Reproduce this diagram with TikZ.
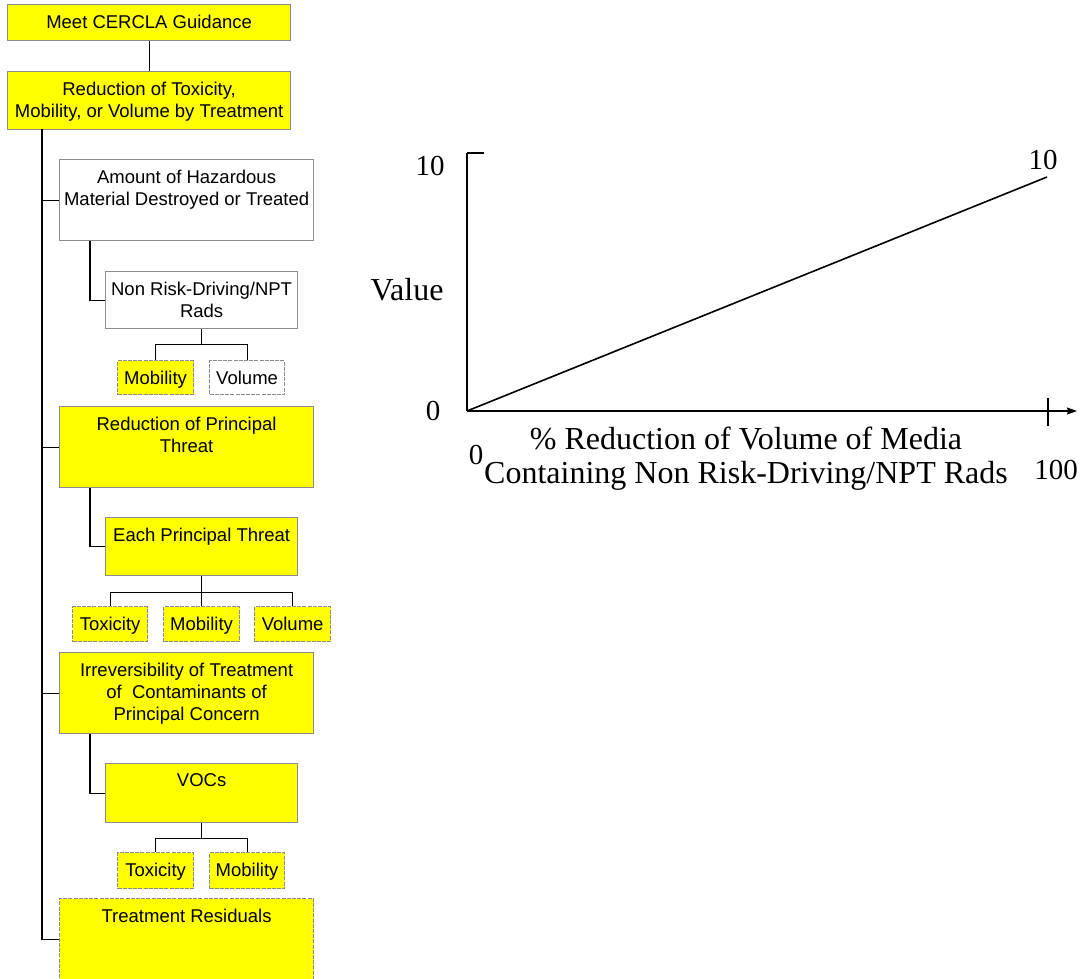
\documentclass[tikz,border=0pt]{standalone}
\usepackage{fontspec}
\setmainfont{Liberation Sans}
\newfontfamily\graphfont{Liberation Serif}
\usetikzlibrary{arrows.meta}
\definecolor{boxyellow}{RGB}{255,255,0}
\definecolor{boxgray}{RGB}{140,140,140}

\begin{document}
\begin{tikzpicture}[x=1pt,y=-1pt,
  box/.style={draw=boxgray, line width=1.2pt, fill=boxyellow, anchor=north west,
    inner sep=0pt, minimum width=254pt, minimum height=81pt},
  plainbox/.style={box, fill=white},
  leafbox/.style={box, dash pattern=on 4pt off 1.2pt, minimum width=76pt, minimum height=34pt},
  plainleaf/.style={leafbox, fill=white},
  label text/.style={anchor=north, inner sep=0pt, align=center,
    font=\fontsize{18.5}{22.3}\selectfont},
  link/.style={line width=1.1pt, black},
  axis/.style={line width=1.2pt, black},
  graph num/.style={inner sep=0pt, align=center, font=\graphfont\fontsize{29}{35}\selectfont},
  graph text/.style={inner sep=0pt, align=center, font=\graphfont\fontsize{32}{34}\selectfont}
]
\path[use as bounding box, clip] (0,0) rectangle (1085,978);

% ---------- value tree ----------
\node[box, minimum width=283pt, minimum height=36pt] (meet) at (7,4) {};
\node[label text] (meett) at ([yshift=-10.5pt]meet.north) {Meet CERCLA Guidance};

\node[box, minimum width=283pt, minimum height=58pt] (red) at (7,71) {};
\node[label text] (redt) at ([yshift=-10.5pt]red.north) {Reduction of Toxicity,\\Mobility, or Volume by Treatment};

\node[plainbox] (amt) at (59,159) {};
\node[label text] (amtt) at ([yshift=-10.5pt]amt.north) {Amount of Hazardous\\Material Destroyed or Treated};

\node[plainbox, minimum width=192pt, minimum height=57pt] (nrd) at (105,271) {};
\node[label text] (nrdt) at ([yshift=-10.5pt]nrd.north) {Non Risk-Driving/NPT\\Rads};

\node[leafbox] (mobA) at (117,360) {};
\node[label text] (mobAt) at ([yshift=-10.5pt]mobA.north) {Mobility};
\node[plainleaf, minimum width=75pt] (volA) at (209,360) {};
\node[label text] (volAt) at ([yshift=-10.5pt]volA.north) {Volume};

\node[box] (rpt) at (59,406) {};
\node[label text] (rptt) at ([yshift=-10.5pt]rpt.north) {Reduction of Principal\\Threat};

\node[box, minimum width=192pt, minimum height=58pt] (ept) at (105,517) {};
\node[label text] (eptt) at ([yshift=-10.5pt]ept.north) {Each Principal Threat};

\node[leafbox, minimum width=75pt, minimum height=35pt] (toxB) at (72,606) {};
\node[label text] (toxBt) at ([yshift=-10.5pt]toxB.north) {Toxicity};
\node[leafbox, minimum height=35pt] (mobB) at (163,606) {};
\node[label text] (mobBt) at ([yshift=-10.5pt]mobB.north) {Mobility};
\node[leafbox, minimum height=35pt] (volB) at (254,606) {};
\node[label text] (volBt) at ([yshift=-10.5pt]volB.north) {Volume};

\node[box] (irr) at (59,652) {};
\node[label text] (irrt) at ([yshift=-10.5pt]irr.north) {Irreversibility of Treatment\\of\ \ Contaminants of\\Principal Concern};

\node[box, minimum width=192pt, minimum height=59pt] (voc) at (105,763) {};
\node[label text] (voct) at ([yshift=-10.5pt]voc.north) {VOCs};

\node[leafbox, minimum height=36pt] (toxC) at (117,852) {};
\node[label text] (toxCt) at ([yshift=-10.5pt]toxC.north) {Toxicity};
\node[leafbox, minimum width=75pt, minimum height=36pt] (mobC) at (209,852) {};
\node[label text] (mobCt) at ([yshift=-10.5pt]mobC.north) {Mobility};

\node[leafbox, minimum width=254pt, minimum height=82pt] (res) at (59,898) {};
\node[label text] (rest) at ([yshift=-10.5pt]res.north) {Treatment Residuals};

% connectors
\draw[link] (meet.south) -- (red.south |- red.north);
\coordinate (trunk) at (42,129);
\draw[link] (trunk) |- (amt.west);
\draw[link] (trunk) |- (rpt.west);
\draw[link] (trunk) |- (irr.west);
\draw[link] (trunk) |- (res.west);

\draw[link] ([xshift=31pt]amt.south west) |- (nrd.west);
\draw[link] ([xshift=31pt]rpt.south west) |- (ept.west);
\draw[link] ([xshift=31pt]irr.south west) |- (voc.west);

\draw[link] (nrd.south) -- ++(0,15) coordinate (barA);
\draw[link] (barA) -| (mobA.north);
\draw[link] (barA) -| (volA.north);

\draw[link] (ept.south) -- ++(0,16) coordinate (barB);
\draw[link] (barB) -| (toxB.north);
\draw[link] (barB) -- (mobB.north);
\draw[link] (barB) -| (volB.north);

\draw[link] (voc.south) -- ++(0,15) coordinate (barC);
\draw[link] (barC) -| (toxC.north);
\draw[link] (barC) -| (mobC.north);

% ---------- value function graph ----------
\coordinate (org) at (467,411);
\coordinate (ytop) at (467,153);
\coordinate (xend) at (1077,411);
\coordinate (xmax) at (1048,411);
\coordinate (peak) at (1047,177);

\draw[axis] (ytop) -- (org);
\draw[axis, -{Stealth[length=10pt,width=7pt,inset=1pt]}] (org) -- (xend);
\draw[axis] (ytop) -- ++(17,0);
\draw[axis] ([yshift=13pt]xmax) -- ([yshift=-15pt]xmax);
\draw[line width=1.6pt] (org) -- (peak);

\node[graph num] (yten) at (430,166) {10};
\node[graph num] (yzero) at (433,411) {0};
\node[graph text] (ylab) at (407,290) {Value};
\node[graph num] (pten) at (1043,160) {10};
\node[graph num] (xzero) at (476,455) {0};
\node[graph num] (xhund) at (1056,470) {100};
\node[graph text, anchor=north] (xlab) at (746,427) {\% Reduction of Volume of Media\\Containing Non Risk-Driving/NPT Rads};
\end{tikzpicture}
\end{document}
